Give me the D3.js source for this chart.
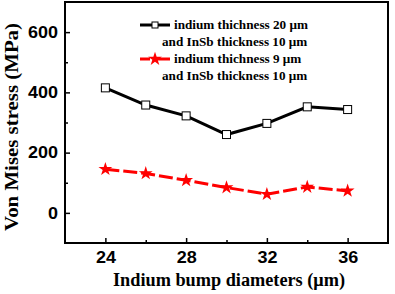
<!DOCTYPE html>
<meta charset="utf-8">
<style>
body { margin: 0; background: white; }
text { fill: black; }
.tick text { font-family: "Liberation Sans", Arial, sans-serif; font-weight: bold; font-size: 16px; }
.title { font-family: "Liberation Serif", "Times New Roman", serif; font-weight: bold; font-size: 18px; }
.legend text { font-family: "Liberation Serif", "Times New Roman", serif; font-weight: bold; font-size: 13.2px; }
</style>
<body>
<script src="https://d3js.org/d3.v7.min.js"></script>
<script>

const width = 395
const height = 294

// bump diameters (um)
const diameters = [24, 26, 28, 30, 32, 34, 36]
// indium 20 um / InSb 10 um
const stress20 = [415, 358, 322, 260, 297, 352, 343]
// indium 9 um / InSb 10 um
const stress9 = [145, 131, 108, 84, 62, 86, 73]

const xTicks = [24, 28, 32, 36]
const yTicks = [0, 200, 400, 600]

const legendLabels = [
	['indium thichness 20 \u03bcm', 'and InSb thickness 10 \u03bcm'],
	['indium thichness 9 \u03bcm', 'and InSb thickness 10 \u03bcm']
]

const margin = {left: 65, right: 7, top: 2, bottom: 51}

const svg = d3.select('body')
	.append('svg')
	.attr('width', width)
	.attr('height', height)

const x = d3.scaleLinear()
	.domain([22, 38])
	.range([margin.left, width - margin.right])

const y = d3.scaleLinear()
	.domain([-100, 700])
	.range([height - margin.bottom, margin.top])

// minor ticks first so the major ones draw on top
svg.append('g')
	.attr('transform', `translate(0,${y(-100)})`)
	.call(d3.axisTop(x).tickValues([26, 30, 34]).tickSize(3).tickFormat(''))
	.call(g => g.select('.domain').remove())
svg.append('g')
	.attr('transform', `translate(${x(22)},0)`)
	.call(d3.axisRight(y).tickValues([100, 300, 500]).tickSize(3).tickFormat(''))
	.call(g => g.select('.domain').remove())

// x axis, ticks pointing in
const xAxis = svg.append('g')
	.attr('transform', `translate(0,${y(-100)})`)
	.call(d3.axisBottom(x).tickValues(xTicks).tickSizeInner(-5).tickSizeOuter(0).tickPadding(9))
xAxis.select('.domain').remove()

const yAxis = svg.append('g')
	.attr('transform', `translate(${x(22)},0)`)
	.call(d3.axisLeft(y).tickValues(yTicks).tickSizeInner(-5).tickSizeOuter(0).tickPadding(7))
yAxis.select('.domain').remove()

// the digits in the picture are a little wide
svg.selectAll('.tick text')
	.attr('textLength', d => String(d).length * 10)
	.attr('lengthAdjust', 'spacingAndGlyphs')

svg.selectAll('.tick line').attr('stroke', 'black').attr('stroke-width', 1.5)

// frame
svg.append('rect')
	.attr('x', x(22))
	.attr('y', y(700))
	.attr('width', x(38) - x(22))
	.attr('height', y(-100) - y(700))
	.attr('fill', 'none')
	.attr('stroke', 'black')
	.attr('stroke-width', 2)

const line = d3.line()
	.x((d, i) => x(diameters[i]))
	.y(d => y(d))

const star = d3.symbol().type(d3.symbolStar).size(60)

// black series
svg.append('path')
	.datum(stress20)
	.attr('d', line)
	.attr('fill', 'none')
	.attr('stroke', 'black')
	.attr('stroke-width', 3)
svg.selectAll('.sq')
	.data(stress20)
	.enter()
	.append('rect')
	.attr('x', (d, i) => x(diameters[i]) - 4)
	.attr('y', d => y(d) - 4)
	.attr('width', 8)
	.attr('height', 8)
	.attr('fill', 'white')
	.attr('stroke', 'black')
	.attr('stroke-width', 1)

// red series
svg.append('path')
	.datum(stress9)
	.attr('d', line)
	.attr('fill', 'none')
	.attr('stroke', '#ff0000')
	.attr('stroke-width', 3)
	.attr('stroke-dasharray', '14,4')
svg.selectAll('.st')
	.data(stress9)
	.enter()
	.append('path')
	.attr('d', star)
	.attr('transform', (d, i) => `translate(${x(diameters[i])},${y(d)})`)
	.attr('fill', '#ff0000')

// legend
const legend = svg.append('g').attr('class', 'legend')
const legendY = [25, 59]
legendY.forEach((ly, k) => {
	legend.append('line')
		.attr('x1', 140).attr('x2', 170)
		.attr('y1', ly).attr('y2', ly)
		.attr('stroke', k ? '#ff0000' : 'black')
		.attr('stroke-width', 3)
		.attr('stroke-dasharray', k ? '10,4,6,0' : null)
	if (k) {
		legend.append('path')
			.attr('d', star)
			.attr('transform', `translate(155,${ly})`)
			.attr('fill', '#ff0000')
	} else {
		legend.append('rect')
			.attr('x', 152).attr('y', ly - 3)
			.attr('width', 6).attr('height', 6)
			.attr('fill', 'white').attr('stroke', 'black')
	}
	legend.append('text')
		.attr('x', 174).attr('y', ly + 4)
		.text(legendLabels[k][0])
	legend.append('text')
		.attr('x', 162).attr('y', ly + 21)
		.text(legendLabels[k][1])
})

// axis titles
svg.append('text')
	.attr('class', 'title')
	.attr('x', 229)
	.attr('y', 286)
	.attr('text-anchor', 'middle')
	.attr('textLength', 232)
	.attr('lengthAdjust', 'spacingAndGlyphs')
	.text('Indium bump diameters (\u03bcm)')

svg.append('text')
	.attr('class', 'title')
	.attr('transform', `translate(18,127) rotate(-90)`)
	.attr('text-anchor', 'middle')
	.attr('textLength', 208)
	.attr('lengthAdjust', 'spacingAndGlyphs')
	.text('Von Mises stress (MPa)')

</script>
</body>
</html>
